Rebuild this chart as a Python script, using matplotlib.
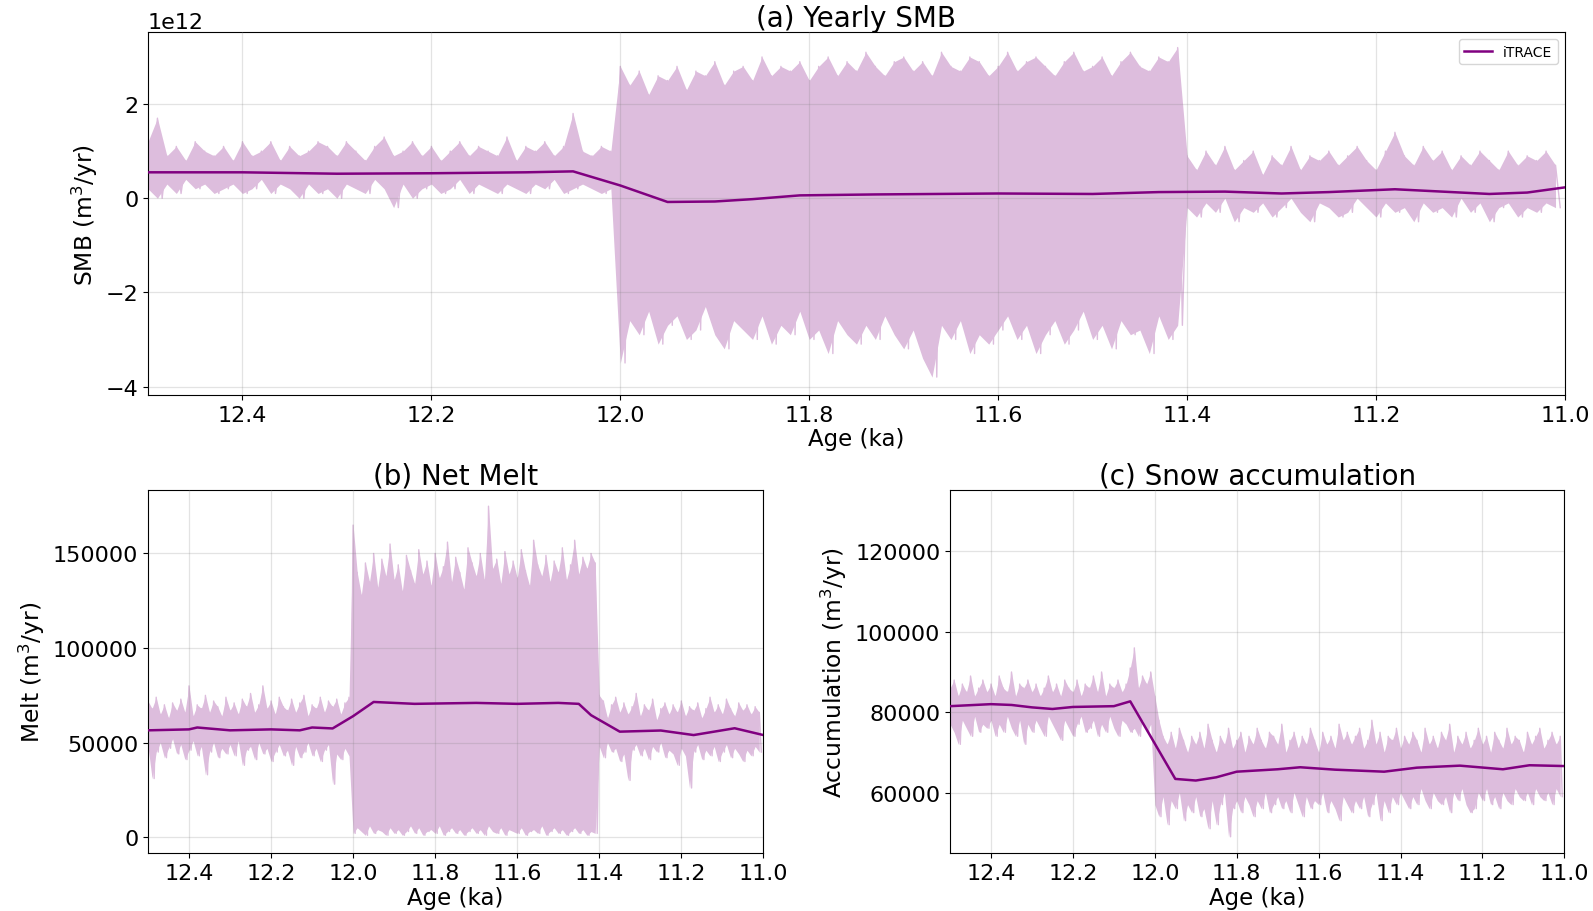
import numpy as np
import matplotlib
matplotlib.use("Agg")
import matplotlib.pyplot as plt

# yearly series, read off at 10-yr bins: highest and lowest value in each bin
# (a) SMB in 1e11 m3/yr
smb_peaks = [12, 17, 9, 11, 8, 12, 10, 9, 11, 8,
             12, 9, 10, 12, 8, 11, 9, 10, 12, 11,
             9, 12, 10, 8, 11, 13, 9, 10, 12, 9,
             11, 8, 10, 12, 9, 11, 10, 9, 13, 8,
             11, 10, 12, 9, 11, 18, 10, 9, 11, 10,
             28, 24, 27, 22, 26, 25, 28, 23, 27, 26,
             29, 24, 27, 28, 25, 30, 26, 28, 27, 29,
             25, 28, 30, 26, 29, 27, 31, 28, 26, 29,
             30, 27, 29, 26, 31, 28, 27, 30, 29, 26,
             28, 31, 27, 29, 30, 28, 26, 29, 31, 27,
             28, 30, 26, 29, 31, 28, 27, 30, 29, 32,
             9, 6, 10, 7, 11, 6, 8, 10, 5, 9,
             7, 11, 6, 9, 8, 10, 7, 9, 11, 8,
             6, 10, 14, 9, 7, 11, 8, 10, 6, 9,
             7, 10, 8, 6, 10, 7, 9, 8, 10, 7]
smb_troughs = [2, 0, 3, 1, 4, 2, 3, 1, 2, 3,
               1, 2, 4, 1, 3, 2, 0, 3, 1, 2,
               0, 3, 2, 1, 4, 2, -2, 3, 0, 2,
               3, 1, 2, 4, 1, 3, 2, 1, 3, 2,
               1, 3, 2, 4, 1, 2, 3, 2, 1, 2,
               -35, -26, -29, -24, -31, -27, -25, -30, -28, -23,
               -29, -32, -26, -28, -30, -25, -31, -27, -29, -24,
               -30, -28, -33, -26, -29, -31, -27, -30, -25, -29,
               -32, -28, -34, -38, -27, -30, -26, -33, -29, -31,
               -28, -25, -30, -27, -33, -29, -26, -31, -28, -24,
               -30, -27, -32, -26, -29, -28, -33, -25, -30, -27,
               -2, -4, -1, -3, 0, -5, -2, -3, -1, -4,
               -2, 0, -3, -5, -1, -2, -4, -3, 0, -2,
               -4, -1, -3, -2, -5, -1, -3, -2, -4, 0,
               -3, -1, -5, -2, -1, -4, -2, -3, -1, -2]
# running mean (1e12 m3/yr)
smb_mean_age = [12.5, 12.4, 12.3, 12.2, 12.1, 12.05, 12.0, 11.95, 11.9, 11.86, 11.81,
                11.73, 11.6, 11.5, 11.43, 11.36, 11.3, 11.25, 11.18, 11.12, 11.08, 11.04, 11.0]
smb_mean = [0.55, 0.55, 0.52, 0.53, 0.55, 0.57, 0.27, -0.08, -0.07, -0.02, 0.06,
            0.08, 0.10, 0.09, 0.13, 0.14, 0.10, 0.13, 0.19, 0.13, 0.09, 0.12, 0.23]

# (b) net melt in 1e3 m3/yr
melt_peaks = [72, 68, 74, 65, 70, 63, 71, 67, 73, 66,
              80, 64, 70, 68, 75, 66, 72, 69, 64, 74,
              67, 71, 65, 73, 69, 76, 66, 70, 80, 68,
              72, 65, 74, 69, 67, 73, 66, 71, 75, 64,
              70, 68, 74, 66, 72, 69, 73, 65, 71, 74,
              165, 140, 128, 145, 135, 150, 132, 147, 138, 155,
              136, 144, 130, 149, 141, 134, 152, 139, 146, 133,
              150, 137, 143, 156, 135, 148, 140, 131, 153, 145,
              138, 150, 136, 175, 142, 147, 134, 151, 139, 146,
              137, 152, 141, 133, 157, 144, 138, 149, 135, 146,
              140, 153, 136, 144, 157, 139, 148, 142, 150, 145,
              75, 72, 63, 70, 74, 66, 71, 65, 69, 76,
              64, 70, 67, 73, 62, 68, 71, 65, 70, 66,
              72, 64, 69, 67, 71, 63, 68, 74, 66, 70,
              65, 73, 68, 64, 71, 67, 70, 65, 69, 66]
melt_troughs = [48, 31, 45, 50, 42, 47, 52, 44, 49, 41,
                46, 51, 43, 48, 33, 45, 50, 42, 47, 44,
                49, 43, 51, 38, 46, 48, 41, 50, 44, 47,
                40, 45, 49, 43, 46, 38, 48, 42, 45, 50,
                43, 47, 40, 46, 49, 28, 44, 41, 47, 43,
                2, 5, 3, 1, 6, 2, 4, 3, 1, 5,
                2, 4, 1, 3, 6, 2, 5, 1, 3, 4,
                2, 6, 1, 3, 5, 2, 4, 1, 3, 5,
                2, 4, 1, 6, 3, 2, 5, 1, 4, 3,
                2, 5, 1, 3, 4, 2, 6, 1, 3, 5,
                2, 4, 1, 3, 5, 2, 4, 1, 3, 2,
                48, 42, 50, 45, 47, 40, 44, 30, 46, 49,
                43, 47, 41, 48, 45, 50, 42, 46, 44, 38,
                47, 43, 26, 45, 49, 41, 46, 43, 48, 40,
                45, 49, 42, 47, 44, 40, 46, 43, 48, 45]
melt_mean_age = [12.5, 12.4, 12.38, 12.3, 12.2, 12.13, 12.1, 12.05, 12.0, 11.95,
                 11.85, 11.7, 11.6, 11.5, 11.45, 11.42, 11.35, 11.25, 11.17, 11.07, 11.0]
melt_mean = [56.5, 57, 58, 56.5, 57, 56.5, 58, 57.5, 64, 71.5,
             70.5, 71, 70.5, 71, 70.5, 64.5, 55.8, 56.4, 54, 57.6, 54]

# (c) snow accumulation in 1e3 m3/yr
acc_peaks = [86, 88, 84, 87, 85, 89, 84, 86, 88, 85,
             87, 84, 89, 86, 85, 90, 84, 87, 86, 88,
             85, 87, 84, 86, 89, 85, 87, 84, 88, 86,
             85, 88, 84, 87, 86, 89, 85, 90, 84, 87,
             86, 88, 85, 87, 91, 96, 86, 89, 87, 90,
             84, 78, 74, 72, 75, 71, 76, 73, 70, 74,
             72, 75, 71, 77, 73, 70, 74, 72, 76, 71,
             73, 75, 70, 74, 72, 76, 73, 71, 75, 74,
             72, 77, 70, 73, 75, 71, 74, 72, 76, 73,
             70, 75, 72, 74, 71, 77, 73, 75, 72, 74,
             76, 71, 73, 78, 72, 75, 70, 74, 73, 76,
             71, 74, 72, 75, 73, 70, 76, 72, 74, 71,
             75, 73, 77, 70, 74, 72, 75, 71, 73, 76,
             72, 74, 70, 75, 73, 71, 76, 72, 74, 73,
             70, 75, 72, 74, 76, 71, 73, 75, 72, 74]
acc_troughs = [77, 75, 72, 78, 76, 74, 79, 75, 77, 76,
               78, 74, 77, 75, 79, 76, 74, 78, 72, 77,
               75, 78, 76, 74, 79, 77, 75, 73, 78, 76,
               74, 77, 79, 75, 76, 78, 74, 77, 75, 79,
               76, 74, 78, 77, 75, 76, 74, 78, 75, 77,
               57, 54, 59, 52, 58, 56, 60, 53, 57, 55,
               59, 54, 56, 51, 58, 52, 57, 60, 49, 56,
               58, 55, 59, 57, 54, 58, 56, 60, 55, 57,
               59, 56, 58, 55, 60, 57, 54, 59, 56, 58,
               57, 60, 55, 58, 56, 53, 59, 57, 55, 58,
               56, 59, 54, 57, 60, 53, 58, 55, 59, 57,
               60, 58, 56, 59, 57, 61, 58, 56, 60, 58,
               57, 59, 55, 60, 58, 61, 57, 55, 56, 60,
               58, 61, 57, 59, 56, 60, 58, 57, 61, 59,
               58, 60, 57, 61, 59, 58, 60, 57, 61, 59]
acc_mean_age = [12.5, 12.4, 12.35, 12.3, 12.25, 12.2, 12.1, 12.06, 11.95, 11.9, 11.85,
                11.8, 11.7, 11.645, 11.56, 11.44, 11.36, 11.255, 11.15, 11.085, 11.0]
acc_mean = [81.5, 82, 81.8, 81.2, 80.8, 81.3, 81.5, 82.7, 63.4, 63, 63.8,
            65.2, 65.8, 66.3, 65.7, 65.2, 66.2, 66.7, 65.8, 66.8, 66.6]

BAND = "#DDBDDD"
LINE = "#800080"
FS = 16


def draw(ax, peaks, troughs, mean_age, mean, scale, mscale):
    """yearly band (bin highs/lows) + running mean"""
    n = len(peaks)
    age = 12.5 - 0.01 * np.arange(n)
    hi = np.array(peaks) * scale
    lo = np.array(troughs) * scale
    # zigzag: high at start of bin, low half a bin later
    zz_age = np.empty(2 * n)
    zz_val = np.empty(2 * n)
    zz_age[0::2], zz_age[1::2] = age, age - 0.005
    zz_val[0::2], zz_val[1::2] = hi, lo
    ax.fill_between(age, lo, hi, color=BAND, lw=0, zorder=1)
    ax.plot(zz_age, zz_val, color=BAND, lw=1.0, zorder=1.5)
    ax.plot(mean_age, np.array(mean) * mscale, color=LINE, lw=1.8, zorder=3, label="iTRACE")
    ax.set_xlim(12.5, 11.0)
    ax.set_axisbelow(False)
    ax.grid(True, color="gray", alpha=0.22, lw=0.9)
    ax.tick_params(labelsize=FS)
    ax.set_xlabel("Age (ka)", fontsize=16.5, labelpad=2)


fig = plt.figure(figsize=(15.93, 9.12), dpi=100)
ax_a = fig.add_axes([0.0929, 0.5658, 0.8895, 0.3980])
ax_b = fig.add_axes([0.0929, 0.0633, 0.3863, 0.3984])
ax_c = fig.add_axes([0.5964, 0.0633, 0.3856, 0.3984])

draw(ax_a, smb_peaks, smb_troughs, smb_mean_age, smb_mean, 1e11, 1e12)
ax_a.set_ylim(-4.18e12, 3.53e12)
ax_a.set_yticks([-4e12, -2e12, 0, 2e12])
ax_a.set_ylabel("SMB (m$^3$/yr)", fontsize=16.8)
ax_a.set_title("(a) Yearly SMB", fontsize=20, pad=4)
ax_a.yaxis.get_offset_text().set_fontsize(FS)
ax_a.legend(loc="upper right", fontsize=10)

draw(ax_b, melt_peaks, melt_troughs, melt_mean_age, melt_mean, 1e3, 1e3)
ax_b.set_ylim(-8500, 183600)
ax_b.set_yticks([0, 50000, 100000, 150000])
ax_b.set_ylabel("Melt (m$^3$/yr)", fontsize=16.8)
ax_b.set_title("(b) Net Melt", fontsize=20, pad=4)

draw(ax_c, acc_peaks, acc_troughs, acc_mean_age, acc_mean, 1e3, 1e3)
ax_c.set_ylim(44900, 135300)
ax_c.set_yticks([60000, 80000, 100000, 120000])
ax_c.set_ylabel("Accumulation (m$^3$/yr)", fontsize=16.8)
ax_c.set_title("(c) Snow accumulation", fontsize=20, pad=4)

plt.savefig("out.png", dpi=100)
